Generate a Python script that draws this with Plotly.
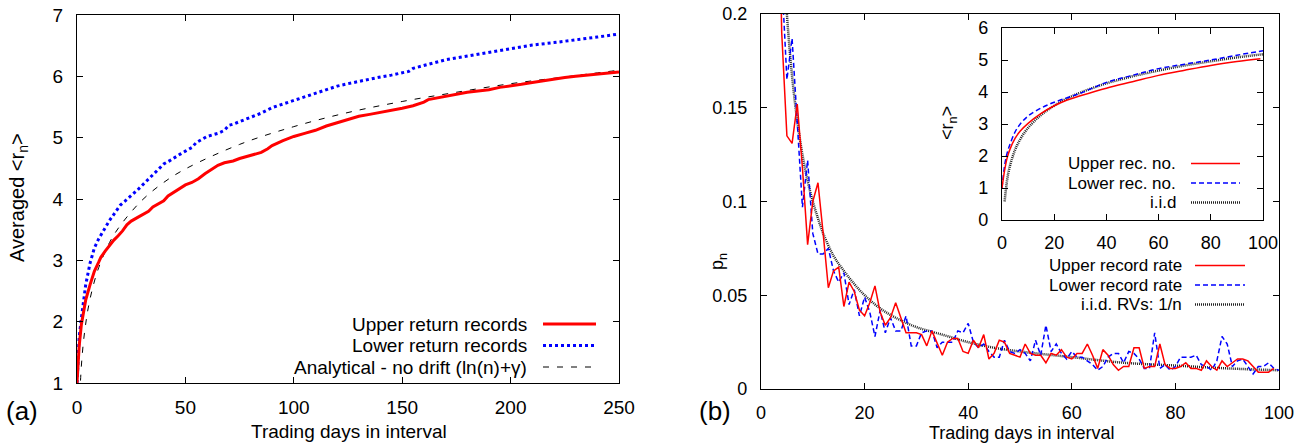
import plotly.graph_objects as go

# ---------------- Panel (a) data ----------------
a_up_x = [0,1,2,3,4,6,8,10,11,13,15,17,19,21,23,25,28,30,33,35,38,40,42,45,48,50,53,56,59,62,65,68,72,75,80,85,88,90,95,100,105,110,115,120,125,130,135,140,145,150,155,158,160,162,165,170,175,180,185,190,195,200,205,210,215,220,225,230,235,240,245,250]
a_up_y = [1.0,1.6,1.95,2.15,2.35,2.6,2.82,2.97,3.05,3.15,3.25,3.33,3.40,3.48,3.58,3.64,3.70,3.74,3.80,3.87,3.93,3.97,4.05,4.12,4.19,4.23,4.27,4.33,4.41,4.48,4.55,4.59,4.62,4.66,4.71,4.76,4.82,4.87,4.95,5.02,5.07,5.12,5.19,5.24,5.30,5.35,5.38,5.41,5.45,5.48,5.52,5.55,5.58,5.62,5.64,5.67,5.71,5.74,5.76,5.78,5.82,5.84,5.87,5.90,5.93,5.96,5.98,6.00,6.02,6.04,6.05,6.07]
a_lo_x = [0,1,2,3,4,6,8,10,12,15,18,20,22,25,28,30,33,35,38,40,43,45,48,50,53,55,58,60,63,65,68,70,72,75,80,85,90,95,100,105,110,115,120,125,130,135,140,145,150,153,155,160,165,170,175,180,190,200,210,220,230,240,250]
a_lo_y = [1.0,1.75,2.05,2.35,2.6,2.95,3.2,3.35,3.48,3.65,3.8,3.9,3.96,4.05,4.15,4.22,4.32,4.40,4.50,4.57,4.63,4.68,4.74,4.78,4.84,4.92,4.98,5.02,5.05,5.07,5.12,5.20,5.22,5.26,5.33,5.40,5.49,5.55,5.61,5.66,5.72,5.79,5.84,5.88,5.92,5.95,5.99,6.02,6.05,6.08,6.13,6.18,6.22,6.27,6.30,6.33,6.39,6.45,6.51,6.55,6.59,6.64,6.69]
a_an_x = [1,2,3,4,5,7,10,15,20,30,40,50,75,100,125,150,175,200,225,250]
a_an_y = [0.58,1.27,1.68,1.96,2.19,2.52,2.88,3.29,3.57,3.98,4.27,4.49,4.89,5.18,5.41,5.59,5.74,5.88,5.99,6.10]

# ---------------- Panel (b) data ----------------
b_up_x = list(range(1, 100))
b_up_y = [1.0,0.5,0.33,0.19,0.135,0.131,0.152,0.118,0.077,0.100,
          0.110,0.083,0.054,0.063,0.065,0.044,0.057,0.052,0.042,0.039,
          0.046,0.055,0.041,0.034,0.038,0.046,0.038,0.030,0.030,0.030,
          0.029,0.023,0.031,0.024,0.018,0.025,0.027,0.027,0.020,0.019,
          0.026,0.022,0.029,0.016,0.019,0.026,0.025,0.019,0.018,0.017,
          0.024,0.019,0.018,0.018,0.014,0.019,0.018,0.021,0.017,0.016,
          0.019,0.019,0.024,0.018,0.011,0.021,0.018,0.013,0.010,0.012,
          0.012,0.022,0.022,0.011,0.012,0.012,0.024,0.013,0.011,0.011,
          0.012,0.014,0.011,0.011,0.010,0.015,0.012,0.010,0.015,0.012,
          0.014,0.016,0.016,0.015,0.012,0.009,0.009,0.009,0.011]
b_lo_x = list(range(1, 101))
b_lo_y = [1.0,0.5,0.33,0.22,0.165,0.187,0.145,0.097,0.122,0.083,
          0.072,0.072,0.075,0.063,0.057,0.062,0.045,0.053,0.039,0.049,
          0.041,0.028,0.042,0.030,0.038,0.031,0.031,0.039,0.023,0.023,
          0.030,0.031,0.031,0.022,0.025,0.025,0.025,0.031,0.030,0.035,
          0.025,0.022,0.024,0.020,0.017,0.017,0.026,0.020,0.019,0.021,
          0.019,0.015,0.026,0.018,0.034,0.020,0.024,0.019,0.016,0.020,
          0.017,0.017,0.015,0.013,0.010,0.012,0.017,0.019,0.019,0.014,
          0.020,0.019,0.016,0.011,0.011,0.030,0.011,0.013,0.010,0.012,
          0.017,0.017,0.017,0.018,0.013,0.012,0.010,0.015,0.028,0.024,
          0.012,0.015,0.016,0.012,0.008,0.012,0.012,0.014,0.011,0.010]
b_iid_x = [1,2,3,4,5,6,7,8,9,10,11,12,14,16,18,20,23,26,30,35,40,45,50,60,70,80,90,100]
b_iid_y = [1.0,0.5,0.333,0.25,0.2,0.167,0.143,0.125,0.111,0.1,0.091,0.083,0.071,0.063,0.056,0.05,0.043,0.038,0.033,0.029,0.025,0.022,0.02,0.017,0.014,0.0125,0.011,0.01]

# ---------------- Inset data ----------------
i_up_x = [0,1,2,3,5,7,10,15,20,25,30,40,50,60,70,80,90,99]
i_up_y = [1.0,1.55,1.95,2.2,2.55,2.78,3.02,3.33,3.57,3.75,3.88,4.12,4.32,4.52,4.68,4.83,4.95,5.04]
i_lo_x = [0,1,2,3,5,7,10,15,20,25,30,40,50,60,70,80,90,100]
i_lo_y = [1.0,1.7,2.1,2.35,2.75,3.0,3.25,3.5,3.68,3.82,3.96,4.3,4.52,4.73,4.87,5.0,5.15,5.29]
i_iid_x = [1,2,3,4,5,6,8,10,13,16,20,25,30,40,50,60,70,80,90,100]
i_iid_y = [0.58,1.27,1.68,1.96,2.19,2.37,2.66,2.88,3.14,3.35,3.57,3.80,3.98,4.27,4.49,4.67,4.83,4.96,5.08,5.18]

a_xticks = [0, 50, 100, 150, 200, 250]
a_yticks = [1, 2, 3, 4, 5, 6, 7]
b_xticks = [0, 20, 40, 60, 80, 100]
b_yticks = [0, 0.05, 0.1, 0.15, 0.2]
i_yticks = [0, 1, 2, 3, 4, 5, 6]

W, H = 1305, 445
FONT = "Liberation Sans, Arial, Helvetica, sans-serif"
RED = "#ff0000"
BLUE = "#0000ff"
BLACK = "#000000"
DOTK = "#222222"


def px(x):
    return x / W


def py(y):
    return (H - y) / H


fig = go.Figure()

# panel (a)
fig.add_trace(go.Scatter(x=a_an_x, y=a_an_y, mode="lines", line=dict(color=BLACK, width=1, dash="6px,8px", shape="spline"), xaxis="x", yaxis="y"))
fig.add_trace(go.Scatter(x=a_lo_x, y=a_lo_y, mode="lines", line=dict(color=BLUE, width=3, dash="3px,3px"), xaxis="x", yaxis="y"))
fig.add_trace(go.Scatter(x=a_up_x, y=a_up_y, mode="lines", line=dict(color=RED, width=3), xaxis="x", yaxis="y"))

# panel (b)
fig.add_trace(go.Scatter(x=b_iid_x, y=b_iid_y, mode="lines", line=dict(color=DOTK, width=2.5, dash="1px,1px", shape="spline"), xaxis="x2", yaxis="y2"))
fig.add_trace(go.Scatter(x=b_lo_x, y=b_lo_y, mode="lines", line=dict(color=BLUE, width=1.5, dash="5px,3px"), xaxis="x2", yaxis="y2"))
fig.add_trace(go.Scatter(x=b_up_x, y=b_up_y, mode="lines", line=dict(color=RED, width=1.5), xaxis="x2", yaxis="y2"))

# inset
fig.add_trace(go.Scatter(x=i_iid_x, y=i_iid_y, mode="lines", line=dict(color=DOTK, width=2.5, dash="1px,1px", shape="spline"), xaxis="x3", yaxis="y3"))
fig.add_trace(go.Scatter(x=i_lo_x, y=i_lo_y, mode="lines", line=dict(color=BLUE, width=1.5, dash="5px,3px", shape="spline"), xaxis="x3", yaxis="y3"))
fig.add_trace(go.Scatter(x=i_up_x, y=i_up_y, mode="lines", line=dict(color=RED, width=1.5, shape="spline"), xaxis="x3", yaxis="y3"))


def axis(domain, rng, ticks, size, anchor, standoff=0):
    return dict(domain=domain, range=rng, tickvals=ticks, anchor=anchor, automargin=False,
                showgrid=False, zeroline=False, showline=True, linecolor=BLACK, linewidth=1.2,
                mirror="allticks", ticks="inside", ticklen=6, tickcolor=BLACK, tickwidth=1,
                tickfont=dict(family=FONT, size=size, color=BLACK), ticklabelstandoff=standoff)


fig.update_layout(
    width=W, height=H, margin=dict(l=0, r=0, t=0, b=0, autoexpand=False),
    paper_bgcolor="white", plot_bgcolor="white", showlegend=False,
    font=dict(family=FONT, color=BLACK),
    xaxis=axis([px(77), px(619)], [0, 250], a_xticks, 19, "y", 7),
    yaxis=axis([py(383), py(15)], [1, 7], a_yticks, 19, "x", 9),
    xaxis2=axis([px(761), px(1279)], [0, 100], b_xticks, 18, "y2", 7),
    yaxis2=axis([py(389), py(14)], [0, 0.2], b_yticks, 18, "x2", 9),
    xaxis3=axis([px(1002), px(1263)], [0, 100], b_xticks, 18, "y3", 6),
    yaxis3=axis([py(220), py(28)], [0, 6], i_yticks, 18, "x3", 9),
)

ann = []


def text(x, y, s, size, anchor="center", angle=0):
    ann.append(dict(x=px(x), y=py(y), xref="paper", yref="paper", text=s, showarrow=False,
                    xanchor=anchor, yanchor="middle", textangle=angle,
                    font=dict(family=FONT, size=size, color=BLACK)))


text(349, 431, "Trading days in interval", 19)
text(1021, 433, "Trading days in interval", 18)
text(18, 198, "Averaged &lt;r<sub>n</sub>&gt;", 20, angle=-90)
text(718, 262, "p<sub>n</sub>", 18, angle=-90)
text(948, 123, "&lt;r<sub>n</sub>&gt;", 18, angle=-90)
text(22, 411, "(a)", 26)
text(715, 411, "(b)", 26)

shapes = []


def key(xt, x0, x1, y, label, size, color, width, dash):
    text(xt, y, label, size, anchor="right")
    shapes.append(dict(type="line", xref="paper", yref="paper", x0=px(x0), x1=px(x1), y0=py(y), y1=py(y),
                       line=dict(color=color, width=width, dash=dash)))


key(529, 543, 596, 324, "Upper return records", 19, RED, 3, "solid")
key(529, 543, 596, 345.5, "Lower return records", 19, BLUE, 3, "3px,3px")
key(529, 543, 596, 367, "Analytical - no drift (ln(n)+γ)", 19, BLACK, 1, "6px,8px")

key(1184, 1195, 1245, 265.5, "Upper record rate", 17, RED, 1.5, "solid")
key(1184, 1195, 1245, 285, "Lower record rate", 17, BLUE, 1.5, "5px,3px")
key(1184, 1195, 1245, 304.5, "i.i.d. RVs: 1/n", 17, DOTK, 2.5, "1px,1px")

key(1178, 1191, 1240, 163.5, "Upper rec. no.", 17, RED, 1.5, "solid")
key(1178, 1191, 1240, 183, "Lower rec. no.", 17, BLUE, 1.5, "5px,3px")
key(1178, 1191, 1240, 202.5, "i.i.d", 17, DOTK, 2.5, "1px,1px")

fig.update_layout(annotations=ann, shapes=shapes)
fig.write_html("out.html", config={"displayModeBar": False, "staticPlot": True},
               post_script="document.body.style.margin='0px';document.body.style.overflow='hidden';")
